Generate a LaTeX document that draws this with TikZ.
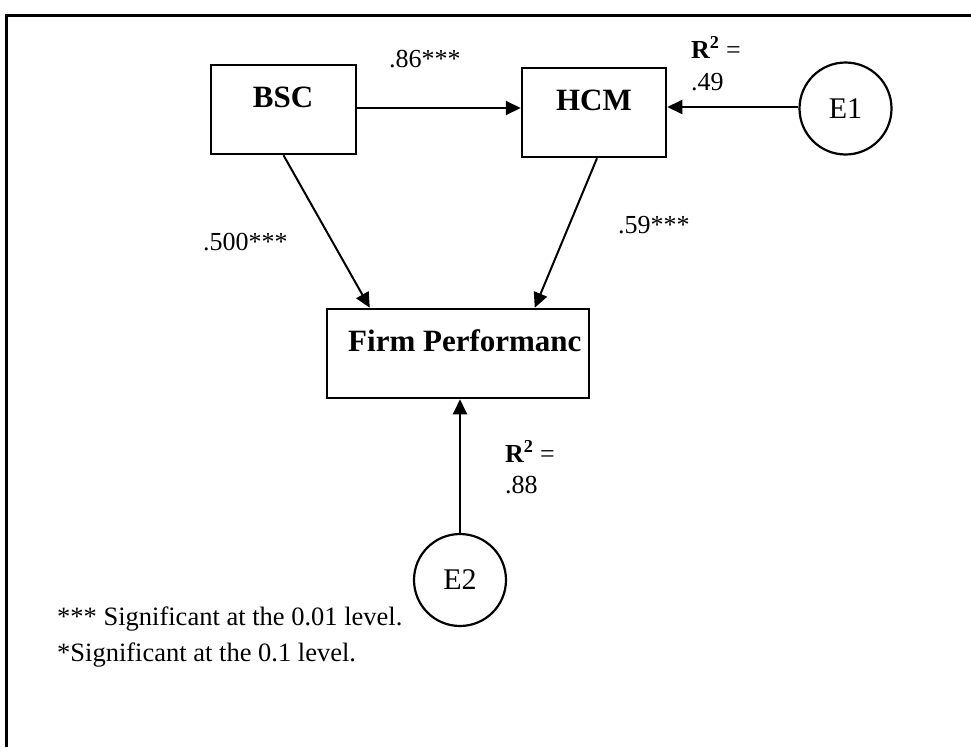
\documentclass[tikz,border=0pt]{standalone}
\usepackage{fontspec}
\setmainfont{Liberation Serif}
\usetikzlibrary{arrows.meta,calc}

\tikzset{
  constr/.style={draw, line width=2.5pt, rectangle, inner sep=0pt},
  errterm/.style={draw, line width=2.2pt, circle, inner sep=0pt, minimum size=92pt,
    font=\fontsize{30}{36}\selectfont},
  boxtitle/.style={inner sep=0pt, font=\fontsize{31}{37}\selectfont\bfseries},
  coef/.style={inner sep=0pt, anchor=base west, font=\fontsize{26}{31}\selectfont},
  note/.style={inner sep=0pt, anchor=base west, font=\fontsize{26.5}{32}\selectfont},
  path/.style={line width=2pt, -{Triangle[length=15pt, width=14pt]}},
}

\begin{document}
\begin{tikzpicture}[x=1pt, y=1pt]
  \useasboundingbox (0,0) rectangle (971,-747);

  % open frame: top rule and left rule
  \draw[line width=3pt] (971,-15) -- (6,-15) -- (6,-747);

  % constructs
  \node[constr, minimum width=145pt, minimum height=89pt] (bsc) at (283.5,-109.5) {};
  \node[boxtitle, anchor=base] (bsct) at (283,-107) {BSC};

  \node[constr, minimum width=144pt, minimum height=89pt] (hcm) at (594,-112.5) {};
  \node[boxtitle, anchor=base] (hcmt) at (594,-110) {HCM};

  \node[constr, minimum width=262pt, minimum height=89pt] (fp) at (458,-353.5) {};
  \node[boxtitle, anchor=base west] (fpt) at (348,-351) {Firm Performanc};

  % error terms
  \node[errterm] (e1) at (845.5,-108.5) {E1};
  \node[errterm] (e2) at (460,-580) {E2};

  % paths
  \coordinate (fpl) at ($(fp.north west)+(44,0)$);
  \coordinate (fpr) at ($(fp.north west)+(209,0)$);
  \coordinate (hcmo) at ($(hcm.south)+(3,0)$);

  \draw[path] (bsc.east |- 0,-108) -- (hcm.west |- 0,-108);
  \draw[path] (e1.west |- 0,-107) -- (hcm.east |- 0,-107);
  \draw[path] (bsc.south) -- (fpl);
  \draw[path] (hcmo) -- (fpr);
  \draw[path] (e2.north) -- (e2.north |- fp.south);

  % coefficients
  \node[coef] (c1) at (389,-67) {.86***};
  \node[coef] (c2) at (203,-250) {.500***};
  \node[coef] (c3) at (618,-233) {.59***};
  \node[coef] (r1a) at (691,-58) {\textbf{R\textsuperscript{2}} =};
  \node[coef] (r1b) at (691,-90) {.49};
  \node[coef] (r2a) at (505,-462) {\textbf{R\textsuperscript{2}} =};
  \node[coef] (r2b) at (505,-493) {.88};

  % significance notes
  \node[note] (n1) at (57,-625) {*** Significant at the 0.01 level.};
  \node[note] (n2) at (57,-661) {*Significant at the 0.1 level.};
\end{tikzpicture}
\end{document}
